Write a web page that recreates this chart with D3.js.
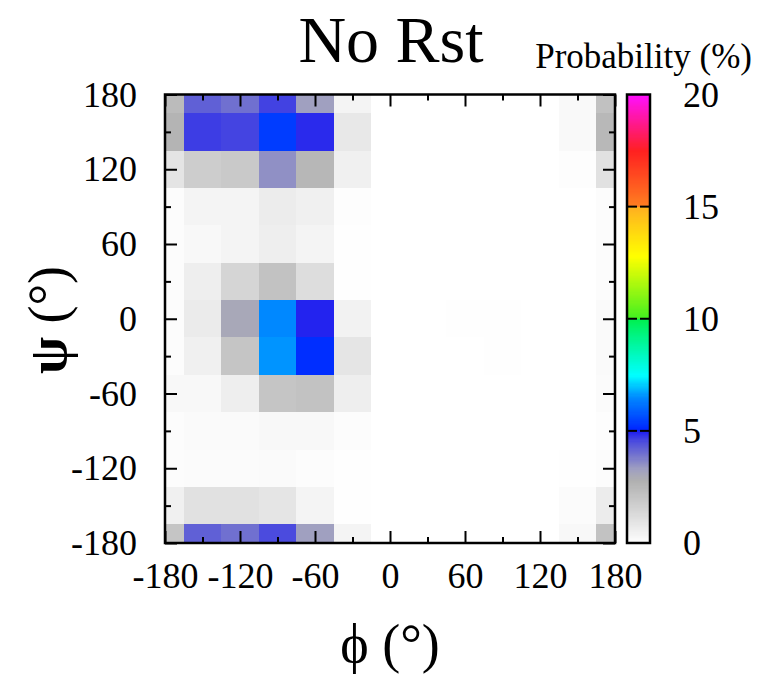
<!DOCTYPE html>
<html>
<head>
<meta charset="utf-8">
<script src="https://cdn.jsdelivr.net/npm/d3@7"></script>
<style>
  html, body { margin: 0; padding: 0; background: #fff; }
  svg { display: block; }
  text { font-family: "Liberation Serif", "Times New Roman", Times, serif; fill: #000; }
</style>
</head>
<body>
<svg id="chart" width="771" height="678"></svg>
<script>
// ---- data ----
const phiValues = [-180, -150, -120, -90, -60, -30, 0, 30, 60, 90, 120, 150, 180];
const psiValues = [180, 150, 120, 90, 60, 30, 0, -30, -60, -90, -120, -150, -180];
// probability (%) ; rows = psi (top to bottom), columns = phi (left to right)
const probability = [
  [2.40, 4.25, 4.00, 4.65, 3.30, 0.38, 0, 0, 0, 0, 0, 0.22, 2.20],
  [2.65, 4.70, 4.62, 5.40, 4.90, 0.80, 0, 0, 0, 0, 0, 0.20, 2.50],
  [0.95, 1.76, 1.90, 3.53, 2.55, 0.52, 0, 0, 0, 0, 0, 0.08, 1.05],
  [0.10, 0.38, 0.38, 0.66, 0.52, 0.08, 0, 0, 0, 0, 0, 0, 0.10],
  [0.10, 0.24, 0.38, 0.62, 0.38, 0.03, 0, 0, 0, 0, 0, 0, 0.10],
  [0.10, 0.62, 1.48, 2.17, 1.20, 0.03, 0, 0, 0, 0, 0, 0, 0.12],
  [0.10, 0.72, 3.05, 6.50, 4.97, 0.45, 0, 0, 0.05, 0.04, 0, 0, 0.17],
  [0.10, 0.52, 2.05, 6.60, 5.20, 0.93, 0, 0, 0, 0.04, 0, 0, 0.17],
  [0.24, 0.24, 0.60, 2.05, 2.17, 0.60, 0, 0, 0, 0, 0, 0, 0.15],
  [0.10, 0.17, 0.17, 0.24, 0.24, 0.10, 0, 0, 0, 0, 0, 0, 0.06],
  [0.10, 0.14, 0.14, 0.17, 0.10, 0.02, 0, 0, 0, 0, 0, 0.02, 0.10],
  [0.52, 1.07, 1.07, 0.93, 0.38, 0.02, 0, 0, 0, 0, 0, 0.15, 0.66],
  [2.05, 4.25, 4.00, 4.55, 3.30, 0.38, 0, 0, 0, 0, 0, 0.24, 2.17]
];
const axisMajorTicks = [-180, -120, -60, 0, 60, 120, 180];
const axisMinorTicks = [-150, -90, -30, 30, 90, 150];
const colorbarTicks = [0, 5, 10, 15, 20];
const colorbarMinorTicks = [5, 10, 15];
const titleText = "No Rst";
const colorbarTitle = "Probability (%)";

// palette (value -> colour), with hard jumps at 5, 10, 15
const paletteDomain = [0, 2.8, 3.3, 4, 4.5, 4.999, 5, 6.5, 7.5, 9.999, 10, 12.8, 14.999, 15, 17.5, 20];
const paletteRange = ["#ffffff", "#b0b0b0", "#a0a0c0", "#7070d0", "#5050dc", "#2020f0", "#0020ff", "#0088ff", "#00ffff",
                      "#00f050", "#40f020", "#ffff00", "#ffb020", "#ff8020", "#ff2020", "#ff10ff"];

// ---- layout ----
const plot = { left: 165, right: 615, top: 94.5, bottom: 543 };
const cbar = { left: 627, right: 650 };

const svg = d3.select("#chart");
const x = d3.scaleLinear().domain([-180, 180]).range([plot.left, plot.right]);
const y = d3.scaleLinear().domain([-180, 180]).range([plot.bottom, plot.top]);
const color = d3.scaleLinear().domain(paletteDomain).range(paletteRange).clamp(true);

svg.append("defs").append("clipPath").attr("id", "plotclip")
  .append("rect").attr("x", plot.left).attr("y", plot.top)
  .attr("width", plot.right - plot.left).attr("height", plot.bottom - plot.top);

// cells
const cells = [];
psiValues.forEach((psi, i) => phiValues.forEach((phi, j) => cells.push({ phi, psi, v: probability[i][j] })));
svg.append("g").attr("clip-path", "url(#plotclip)")
  .selectAll("rect").data(cells).join("rect")
  .attr("x", d => x(d.phi - 15))
  .attr("y", d => y(d.psi + 15))
  .attr("width", d => x(d.phi + 15) - x(d.phi - 15) + 0.5)
  .attr("height", d => y(d.psi - 15) - y(d.psi + 15) + 0.5)
  .attr("fill", d => color(d.v))
  .attr("shape-rendering", "crispEdges");

// axes
const fmt = d => String(d);
function styleAxis(g) {
  g.select(".domain").remove();
  g.selectAll(".tick line").attr("stroke", "#000").attr("stroke-width", 2);
  g.selectAll("text").style("font-size", "36px").style("font-family", "'Liberation Serif', serif").attr("fill", "#000");
}
svg.append("g").attr("transform", `translate(0,${plot.bottom})`)
  .call(d3.axisBottom(x).tickValues(axisMajorTicks).tickFormat(fmt).tickSizeInner(-12).tickSizeOuter(0).tickPadding(19))
  .call(styleAxis);
svg.append("g").attr("transform", `translate(0,${plot.bottom})`)
  .call(d3.axisBottom(x).tickValues(axisMinorTicks).tickFormat("").tickSizeInner(-6).tickSizeOuter(0))
  .call(styleAxis);
svg.append("g").attr("transform", `translate(0,${plot.top})`)
  .call(d3.axisTop(x).tickValues(axisMajorTicks).tickFormat("").tickSizeInner(-12).tickSizeOuter(0))
  .call(styleAxis);
svg.append("g").attr("transform", `translate(0,${plot.top})`)
  .call(d3.axisTop(x).tickValues(axisMinorTicks).tickFormat("").tickSizeInner(-6).tickSizeOuter(0))
  .call(styleAxis);
svg.append("g").attr("transform", `translate(${plot.left},0)`)
  .call(d3.axisLeft(y).tickValues(axisMajorTicks).tickFormat(fmt).tickSizeInner(-12).tickSizeOuter(0).tickPadding(28))
  .call(styleAxis);
svg.append("g").attr("transform", `translate(${plot.left},0)`)
  .call(d3.axisLeft(y).tickValues(axisMinorTicks).tickFormat("").tickSizeInner(-6).tickSizeOuter(0))
  .call(styleAxis);
svg.append("g").attr("transform", `translate(${plot.right},0)`)
  .call(d3.axisRight(y).tickValues(axisMajorTicks).tickFormat("").tickSizeInner(-12).tickSizeOuter(0))
  .call(styleAxis);
svg.append("g").attr("transform", `translate(${plot.right},0)`)
  .call(d3.axisRight(y).tickValues(axisMinorTicks).tickFormat("").tickSizeInner(-6).tickSizeOuter(0))
  .call(styleAxis);

// plot border
svg.append("rect").attr("x", plot.left).attr("y", plot.top)
  .attr("width", plot.right - plot.left).attr("height", plot.bottom - plot.top)
  .attr("fill", "none").attr("stroke", "#000").attr("stroke-width", 2.5);

// colour bar
const cy = d3.scaleLinear().domain([0, 20]).range([plot.bottom, plot.top]);
const step = 0.05;
svg.append("g").selectAll("rect").data(d3.range(0, 20, step)).join("rect")
  .attr("x", cbar.left).attr("width", cbar.right - cbar.left)
  .attr("y", d => cy(d + step)).attr("height", d => cy(d) - cy(d + step) + 0.6)
  .attr("fill", d => color(d + step / 2))
  .attr("shape-rendering", "crispEdges");
const cbMinor = svg.append("g");
colorbarMinorTicks.forEach(v => {
  cbMinor.append("line").attr("x1", cbar.left).attr("x2", cbar.left + 10).attr("y1", cy(v)).attr("y2", cy(v))
    .attr("stroke", "#000").attr("stroke-width", 2);
  cbMinor.append("line").attr("x1", cbar.right - 10).attr("x2", cbar.right).attr("y1", cy(v)).attr("y2", cy(v))
    .attr("stroke", "#000").attr("stroke-width", 2);
});
svg.append("rect").attr("x", cbar.left).attr("y", plot.top)
  .attr("width", cbar.right - cbar.left).attr("height", plot.bottom - plot.top)
  .attr("fill", "none").attr("stroke", "#000").attr("stroke-width", 2.5);
svg.append("g").attr("transform", `translate(${cbar.right},0)`)
  .call(d3.axisRight(cy).tickValues(colorbarTicks).tickFormat(fmt).tickSize(0).tickPadding(33))
  .call(styleAxis);

// titles
svg.append("text").attr("x", 391).attr("y", 62).attr("text-anchor", "middle")
  .style("font-size", "66px").text(titleText);
svg.append("text").attr("x", 752).attr("y", 68).attr("text-anchor", "end")
  .style("font-size", "35px").text(colorbarTitle);
svg.append("text").attr("x", 390).attr("y", 662).attr("text-anchor", "middle")
  .style("font-size", "54px").text("\u03D5 (\u00B0)");
const yl = svg.append("text").attr("transform", "translate(66,320) rotate(-90)").attr("text-anchor", "middle")
  .style("font-size", "54px");
yl.append("tspan").style("font-weight", "bold").text("\u03C8");
yl.append("tspan").text(" (\u00B0)");
</script>
</body>
</html>
